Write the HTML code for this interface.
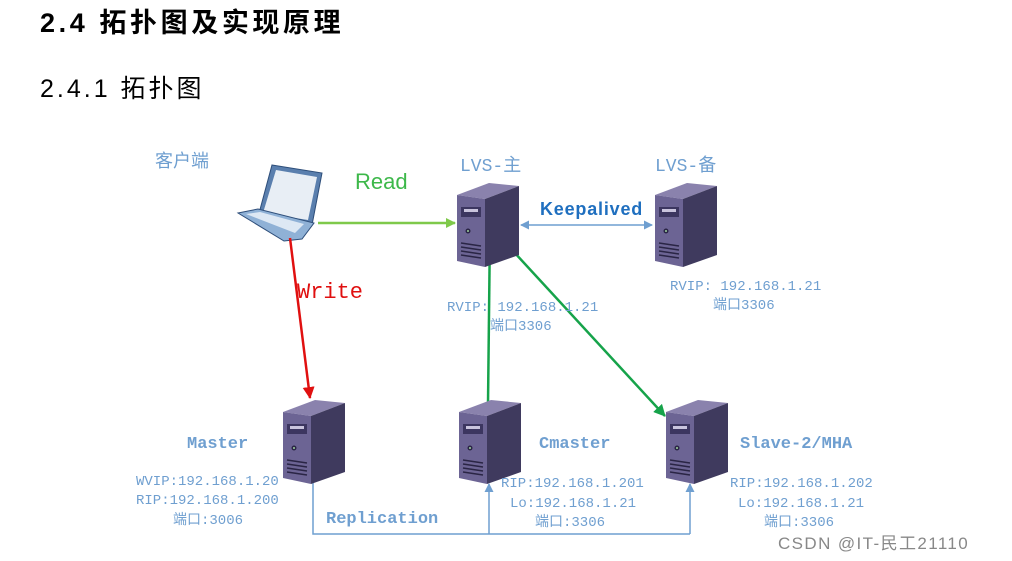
<!DOCTYPE html>
<html><head><meta charset="utf-8"><style>
body{margin:0;background:#fff;width:1012px;height:561px;overflow:hidden;font-family:"Liberation Sans","Noto Sans CJK SC",sans-serif}
</style></head><body>
<svg width="1012" height="561" xmlns="http://www.w3.org/2000/svg" style="position:absolute;left:0;top:0">
<defs>
<g id="srv">
<polygon points="0,12 32,0 62,3 28,16" fill="#8a82ad"/>
<polygon points="0,12 28,16 28,84 0,78" fill="#6c6494"/>
<polygon points="28,16 62,3 62,72 28,84" fill="#3f3a5e"/>
<rect x="4" y="24" width="20" height="10" fill="#3c3660"/>
<rect x="7" y="26" width="14" height="3" fill="#c9c4dd"/>
<circle cx="11" cy="48" r="2.5" fill="#2a2545"/><circle cx="11" cy="48" r="1" fill="#9fd19f"/>
<g stroke="#2a2545" stroke-width="1.5"><line x1="4" y1="60" x2="24" y2="63"/><line x1="4" y1="64" x2="24" y2="67"/><line x1="4" y1="68" x2="24" y2="71"/><line x1="4" y1="72" x2="24" y2="75"/></g>
</g>
<marker id="ag" markerWidth="10" markerHeight="10" refX="9" refY="5" orient="auto" markerUnits="userSpaceOnUse"><path d="M0,0 L10,5 L0,10z" fill="#7fc94a"/></marker>
<marker id="ag2" markerWidth="12" markerHeight="12" refX="11" refY="6" orient="auto" markerUnits="userSpaceOnUse"><path d="M0,0 L12,6 L0,12z" fill="#16a34a"/></marker>
<marker id="ar" markerWidth="12" markerHeight="12" refX="11" refY="6" orient="auto" markerUnits="userSpaceOnUse"><path d="M0,0 L12,6 L0,12z" fill="#e01010"/></marker>
<marker id="ab" markerWidth="9" markerHeight="9" refX="8" refY="4.5" orient="auto-start-reverse" markerUnits="userSpaceOnUse"><path d="M0,0 L9,4.5 L0,9z" fill="#6f9fd0"/></marker>
</defs>
<text x="40" y="32" font-size="27" font-weight="bold" fill="#000" letter-spacing="3.6">2.4 拓扑图及实现原理</text>
<text x="40" y="97" font-size="25" fill="#000" letter-spacing="3">2.4.1 拓扑图</text>

<!-- laptop -->
<g transform="translate(238,165)">
<polygon points="34,0 84,8 74,60 20,52" fill="#5a7fae" stroke="#2e4e7a"/>
<polygon points="38,5 79,12 70,55 25,48" fill="#e8eef5"/>
<polygon points="0,48 20,44 76,58 64,74 46,76" fill="#8fb1d6" stroke="#2e4e7a"/>
<polygon points="8,49 22,47 66,59 57,68" fill="#dde8f4"/>
</g>

<!-- connectors -->
<line x1="318" y1="223" x2="455" y2="223" stroke="#7fc94a" stroke-width="2.5" marker-end="url(#ag)"/>
<line x1="521" y1="225" x2="652" y2="225" stroke="#6f9fd0" stroke-width="1.5" marker-start="url(#ab)" marker-end="url(#ab)"/>
<line x1="290" y1="238" x2="310" y2="398" stroke="#e01010" stroke-width="2.5" marker-end="url(#ar)"/>
<line x1="490" y1="226" x2="488" y2="404" stroke="#16a34a" stroke-width="2.5"/>
<line x1="490" y1="226" x2="665" y2="416" stroke="#16a34a" stroke-width="2.5" marker-end="url(#ag2)"/>
<polyline points="313,482 313,534 690,534" fill="none" stroke="#6f9fd0" stroke-width="1.5"/>
<line x1="489" y1="534" x2="489" y2="484" stroke="#6f9fd0" stroke-width="1.5" marker-end="url(#ab)"/>
<line x1="690" y1="534" x2="690" y2="484" stroke="#6f9fd0" stroke-width="1.5" marker-end="url(#ab)"/>

<use href="#srv" x="457" y="183"/>
<use href="#srv" x="655" y="183"/>
<use href="#srv" x="283" y="400"/>
<use href="#srv" x="459" y="400"/>
<use href="#srv" x="666" y="400"/>

<g font-family="Liberation Mono,'Noto Sans CJK SC',monospace" fill="#6f9fd0">
<text x="155" y="167" font-size="18">客户端</text>
<text x="460" y="171" font-size="18">LVS-主</text>
<text x="655" y="171" font-size="18">LVS-备</text>
<g font-size="14">
<text x="447" y="311">RVIP: 192.168.1.21</text>
<text x="490" y="330">端口3306</text>
<text x="670" y="290">RVIP: 192.168.1.21</text>
<text x="713" y="309">端口3306</text>
<text x="136" y="485">WVIP:192.168.1.20</text>
<text x="136" y="504">RIP:192.168.1.200</text>
<text x="173" y="524">端口:3006</text>
<text x="501" y="487">RIP:192.168.1.201</text>
<text x="510" y="507">Lo:192.168.1.21</text>
<text x="535" y="526">端口:3306</text>
<text x="730" y="487">RIP:192.168.1.202</text>
<text x="738" y="507">Lo:192.168.1.21</text>
<text x="764" y="526">端口:3306</text>
</g>
<g font-size="17" font-weight="bold">
<text x="187" y="448">Master</text>
<text x="539" y="448">Cmaster</text>
<text x="740" y="448">Slave-2/MHA</text>
<text x="326" y="523">Replication</text>
</g>
</g>
<text x="355" y="189" font-size="22" fill="#3db84a" font-family="Liberation Sans,sans-serif">Read</text>
<text x="297" y="298" font-size="22" fill="#e01010" font-family="Liberation Mono,monospace">Write</text>
<text x="540" y="215" font-size="18" font-weight="bold" fill="#1f6fbf" font-family="Liberation Sans,sans-serif" letter-spacing="0.8">Keepalived</text>
<text x="778" y="549" font-size="17" fill="#888" letter-spacing="1.4">CSDN @IT-民工21110</text>
</svg>
</body></html>
